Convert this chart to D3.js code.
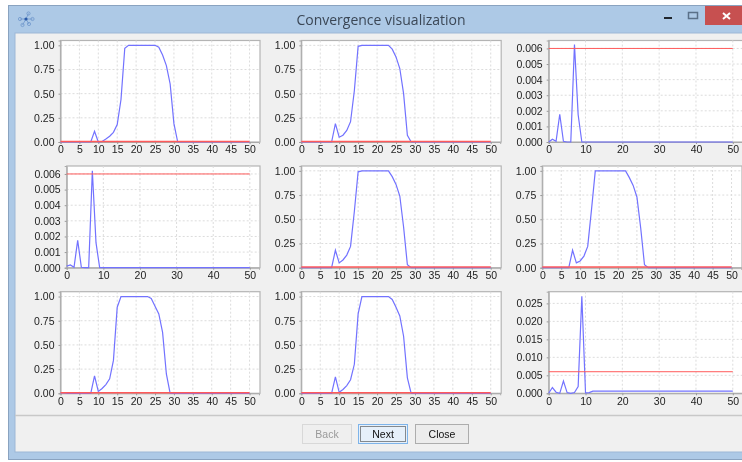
<!DOCTYPE html>
<html>
<head>
<meta charset="utf-8">
<script src="https://cdn.jsdelivr.net/npm/d3@7"></script>
<style>
html, body { margin: 0; padding: 0; background: #fff; overflow: hidden; }
svg { display: block; filter: blur(0.35px); }
text { font-family: "Liberation Sans", Arial, sans-serif; }
</style>
</head>
<body>
<svg id="win" width="742" height="462"></svg>
<script>
// convergence values per iteration, 0..50
var seriesA = [0,0,0,0,0,0,0,0,0,.11,0,.005,.03,.06,.1,.18,.44,.97,1,1,1,1,1,1,1,1,.98,.9,.79,.6,.19,0,0,0,0,0,0,0,0,0,0,0,0,0,0,0,0,0,0,0,0];
var seriesB = [0,0,0,0,0,0,0,0,0,.19,.05,.07,.12,.21,.53,.99,1,1,1,1,1,1,1,1,.96,.88,.76,.5,.07,0,0,0,0,0,0,0,0,0,0,0,0,0,0,0,0,0,0,0,0,0,0];
var seriesC = [0,.00018,.00005,.00178,.00005,0,0,.00625,.00175,0,0,0,0,0,0,0,0,0,0,0,0,0,0,0,0,0,0,0,0,0,0,0,0,0,0,0,0,0,0,0,0,0,0,0,0,0,0,0,0,0,0];
var seriesD = [.0001,.00018,.00003,.00175,.00003,0,0,.0062,.0016,0,0,0,0,0,0,0,0,0,0,0,0,0,0,0,0,0,0,0,0,0,0,0,0,0,0,0,0,0,0,0,0,0,0,0,0,0,0,0,0,0,0];
var seriesE = [0,0,0,0,0,0,0,0,0,.18,.05,.08,.13,.22,.58,.99,1,1,1,1,1,1,1,1,.94,.86,.74,.42,.03,0,0,0,0,0,0,0,0,0,0,0,0,0,0,0,0,0,0,0,0,0,0];
var seriesF = [0,0,0,0,0,0,0,0,.18,.05,.07,.12,.22,.6,1,1,1,1,1,1,1,1,1,.93,.85,.73,.41,.03,0,0,0,0,0,0,0,0,0,0,0,0,0,0,0,0,0,0,0,0,0,0,0];
var seriesG = [.005,.005,0,0,0,0,0,0,0,.18,.02,.05,.09,.15,.34,.89,1,1,1,1,1,1,1,1,.98,.9,.82,.63,.2,0,0,0,0,0,0,0,0,0,0,0,0,0,0,0,0,0,0,0,0,0,0];
var seriesH = [0,0,0,0,0,0,0,0,0,.17,.01,.04,.08,.14,.3,.82,1,1,1,1,1,1,1,1,.97,.89,.8,.59,.16,0,0,0,0,0,0,0,0,0,0,0,0,0,0,0,0,0,0,0,0,0,0];
var seriesI = [0,.0016,.0003,0,.0034,.0002,0,.0002,.0019,.027,.0001,.0002,.0006,.0006,.0006,.0006,.0006,.0006,.0006,.0006,.0006,.0006,.0006,.0006,.0006,.0006,.0006,.0006,.0006,.0006,.0006,.0006,.0006,.0006,.0006,.0006,.0006,.0006,.0006,.0006,.0006,.0006,.0006,.0006,.0006,.0006,.0006,.0006,.0006,.0006,.0006];

// the red threshold, same on all nine plots
var thresholdX = [0, 50];
var thresholdY = 0.006;

var xTicksFine = [0,5,10,15,20,25,30,35,40,45,50];
var xTicksWide = [0,10,20,30,40,50];
var yTicksUnit = [0,.25,.5,.75,1];
var yTicksSmall = [0,.001,.002,.003,.004,.005,.006];
var yTicksLarge = [0,.005,.01,.015,.02,.025];

var svg = d3.select("#win");

// window frame
svg.append("rect").attr("x", 8.5).attr("y", 5.5).attr("width", 740).attr("height", 454)
  .attr("fill", "#adc9e6").attr("stroke", "#8aa3c0");
svg.append("rect").attr("x", 15).attr("y", 33).attr("width", 730).attr("height", 419)
  .attr("fill", "#f0f0f0").attr("stroke", "#9db8d6");
svg.append("line").attr("x1", 15).attr("x2", 742).attr("y1", 415.5).attr("y2", 415.5)
  .attr("stroke", "#c8c8c8").attr("stroke-width", 1.5);

svg.append("text").attr("x", 381).attr("y", 25).attr("text-anchor", "middle")
  .attr("font-size", 14).style("font-family", "'Open Sans', sans-serif")
  .attr("fill", "#3b4756").text("Convergence visualization");

// icon
var icon = svg.append("g").attr("transform", "translate(26,19)").attr("stroke", "#6f97cc").attr("stroke-width", .8).attr("fill", "none");
[[2.5,-5.5],[6.5,0],[3,5],[-3.5,6],[-6,0]].forEach(function(p) {
  icon.append("line").attr("x1", 0).attr("y1", 0).attr("x2", p[0]).attr("y2", p[1]);
  icon.append("circle").attr("cx", p[0]).attr("cy", p[1]).attr("r", 1.6);
});
icon.append("circle").attr("r", 1.6).attr("fill", "#2a5aa8").attr("stroke", "none");

// window buttons
svg.append("rect").attr("x", 705).attr("y", 6).attr("width", 37).attr("height", 19).attr("fill", "#c75050");
svg.append("path").attr("d", "M723 13L730 19M730 13L723 19").attr("stroke", "#fff").attr("stroke-width", 2);
svg.append("rect").attr("x", 664).attr("y", 17).attr("width", 8).attr("height", 2).attr("fill", "#20262e");
svg.append("rect").attr("x", 688.5).attr("y", 12.5).attr("width", 9).attr("height", 6)
  .attr("fill", "none").attr("stroke", "#5a7088").attr("stroke-width", 1.5);

function drawPlot(p) {
  var x = d3.scaleLinear().domain([0, 52.5]).range([p.left, p.right]);
  var y = d3.scaleLinear().domain(p.yDomain).range([p.bottom, p.top]);
  var g = svg.append("g");

  g.append("rect").attr("x", p.left).attr("y", p.top)
    .attr("width", p.right - p.left + 1).attr("height", p.bottom - p.top)
    .attr("fill", "#fff").attr("stroke", "#b4b4b4").attr("stroke-width", 1.2);

  g.selectAll("line.vgrid").data(p.xTicks.slice(1)).enter().append("line")
    .attr("class", "vgrid")
    .attr("x1", function(d) { return x(d); }).attr("x2", function(d) { return x(d); })
    .attr("y1", p.top).attr("y2", p.bottom)
    .attr("stroke", "#dcdcdc").attr("stroke-dasharray", "2,2");
  g.selectAll("line.hgrid").data(p.yTicks.slice(1)).enter().append("line")
    .attr("class", "hgrid")
    .attr("x1", p.left).attr("x2", p.right)
    .attr("y1", function(d) { return y(d); }).attr("y2", function(d) { return y(d); })
    .attr("stroke", "#dcdcdc").attr("stroke-dasharray", "2,2");

  var xAxis = g.append("g").attr("transform", "translate(0," + p.bottom + ")")
    .call(d3.axisBottom(x).tickValues(p.xTicks).tickFormat(d3.format("d")).tickSizeOuter(0).tickSize(2).tickPadding(2));
  var yAxis = g.append("g").attr("transform", "translate(" + p.left + ",0)")
    .call(d3.axisLeft(y).tickValues(p.yTicks).tickFormat(d3.format(p.yFormat)).tickSizeOuter(0).tickSize(2).tickPadding(4));
  [xAxis, yAxis].forEach(function(a) {
    a.selectAll("text").attr("font-size", 10.5).attr("fill", "#222")
      .style("font-family", "'Liberation Sans', Arial, sans-serif");
    a.selectAll("line").attr("stroke", "#999");
    a.select(".domain").attr("stroke", "#aaa");
  });

  var line = d3.line()
    .x(function(d, i) { return x(i); })
    .y(function(d) { return y(d); });
  g.append("path").datum(p.values).attr("d", line)
    .attr("fill", "none").attr("stroke", "#7272ff").attr("stroke-width", 1.2);
  g.append("line")
    .attr("x1", x(thresholdX[0])).attr("x2", x(thresholdX[1]))
    .attr("y1", y(thresholdY)).attr("y2", y(thresholdY))
    .attr("stroke", "#ff5a5a").attr("stroke-width", p.yDomain[1] > 1 ? 1.5 : 1);
}

drawPlot({values: seriesA, left: 60.5, right: 259, top: 40.5, bottom: 142, xTicks: xTicksFine, yTicks: yTicksUnit, yDomain: [0, 1.05], yFormat: ".2f"});
drawPlot({values: seriesB, left: 301.3, right: 500.2, top: 40.5, bottom: 142, xTicks: xTicksFine, yTicks: yTicksUnit, yDomain: [0, 1.05], yFormat: ".2f"});
drawPlot({values: seriesC, left: 548.7, right: 742, top: 40.5, bottom: 142, xTicks: xTicksWide, yTicks: yTicksSmall, yDomain: [0, 0.00651], yFormat: ".3f"});
drawPlot({values: seriesD, left: 66.7, right: 259, top: 166, bottom: 267.7, xTicks: xTicksWide, yTicks: yTicksSmall, yDomain: [0, 0.00651], yFormat: ".3f"});
drawPlot({values: seriesE, left: 301.3, right: 500.2, top: 166, bottom: 267.7, xTicks: xTicksFine, yTicks: yTicksUnit, yDomain: [0, 1.05], yFormat: ".2f"});
drawPlot({values: seriesF, left: 542.3, right: 741, top: 166, bottom: 267.7, xTicks: xTicksFine, yTicks: yTicksUnit, yDomain: [0, 1.05], yFormat: ".2f"});
drawPlot({values: seriesG, left: 60.5, right: 259, top: 291.7, bottom: 393.3, xTicks: xTicksFine, yTicks: yTicksUnit, yDomain: [0, 1.05], yFormat: ".2f"});
drawPlot({values: seriesH, left: 301.3, right: 500.2, top: 291.7, bottom: 393.3, xTicks: xTicksFine, yTicks: yTicksUnit, yDomain: [0, 1.05], yFormat: ".2f"});
drawPlot({values: seriesI, left: 548.7, right: 742, top: 291.7, bottom: 393.3, xTicks: xTicksWide, yTicks: yTicksLarge, yDomain: [0, 0.02825], yFormat: ".3f"});

// dialog buttons
function button(label, bx, bw, fill, stroke, color) {
  svg.append("rect").attr("x", bx + .5).attr("y", 424.5).attr("width", bw).attr("height", 19)
    .attr("fill", fill).attr("stroke", stroke);
  svg.append("text").attr("x", bx + bw / 2 + .5).attr("y", 438).attr("text-anchor", "middle")
    .attr("font-size", 10.5).attr("fill", color).text(label);
}
button("Back", 302, 49, "#efefef", "#d8d8d8", "#9a9a9a");
button("Next", 358, 49, "#e6f0fa", "#7eb4ea", "#111");
svg.append("rect").attr("x", 360.5).attr("y", 426.5).attr("width", 45).attr("height", 15)
  .attr("fill", "none").attr("stroke", "#222").attr("stroke-dasharray", "1,1");
button("Close", 415, 53, "#ececec", "#adadad", "#111");
</script>
</body>
</html>
